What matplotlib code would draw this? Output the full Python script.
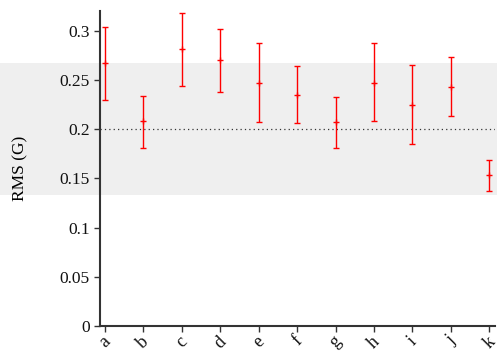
import matplotlib
matplotlib.use("Agg")
import matplotlib.pyplot as plt
from matplotlib.patches import Rectangle

categories = ["a", "b", "c", "d", "e", "f", "g", "h", "i", "j", "k"]
rms_mean = [0.267, 0.208, 0.281, 0.270, 0.247, 0.235, 0.207, 0.247, 0.225, 0.243, 0.153]
rms_low  = [0.230, 0.181, 0.244, 0.238, 0.207, 0.206, 0.181, 0.208, 0.185, 0.213, 0.137]
rms_high = [0.304, 0.234, 0.318, 0.302, 0.287, 0.264, 0.233, 0.287, 0.265, 0.273, 0.169]
yticks = [0, 0.05, 0.1, 0.15, 0.2, 0.25, 0.3]
ytick_labels = ["0", "0.05", "0.1", "0.15", "0.2", "0.25", "0.3"]
reference_level = 0.2

plt.rcParams['font.family'] = ['Liberation Serif', 'DejaVu Serif']

fig = plt.figure(figsize=(5.0, 3.52), dpi=100)

# light background band of the watermark (behind the axes)
fig.patches.append(Rectangle((0.0, 1 - 195/352), 0.994, (195-63)/352,
                             transform=fig.transFigure, facecolor='#efefef',
                             edgecolor='none', zorder=-10))

ax = fig.add_axes([0.2, 1 - 326/352, 0.79, 315/352])
ax.patch.set_alpha(0)

x = list(range(1, len(categories) + 1))
yerr = [[m - l for m, l in zip(rms_mean, rms_low)],
        [h - m for m, h in zip(rms_mean, rms_high)]]
ax.errorbar(x, rms_mean, yerr=yerr, fmt='+', color='#ff0000', ecolor='#ff0000',
            elinewidth=1.0, capsize=2.5, capthick=1.0, markersize=5, mew=1.0,
            zorder=3)

ax.axhline(reference_level, color='#333333', linestyle=(0, (1, 2.5)), linewidth=0.9,
           zorder=2)

ax.set_xlim(0.87, 11.15)
ax.set_ylim(0, 0.32)
ax.set_yticks(yticks)
ax.set_yticklabels(ytick_labels)
ax.set_xticks(x)
ax.set_xticklabels(categories, rotation=45, ha='center', fontsize=13)
ax.set_ylabel("RMS (G)", fontsize=12.5, labelpad=22)

for s in ['top', 'right']:
    ax.spines[s].set_visible(False)
for s in ['left', 'bottom']:
    ax.spines[s].set_color('#333333')
    ax.spines[s].set_linewidth(1.5)
ax.tick_params(axis='both', direction='out', length=4, width=1, color='#333333',
               labelcolor='#111111')
ax.tick_params(axis='y', labelsize=12.5)
ax.tick_params(axis='x', pad=1)

fig.savefig("out.png", dpi=100)
